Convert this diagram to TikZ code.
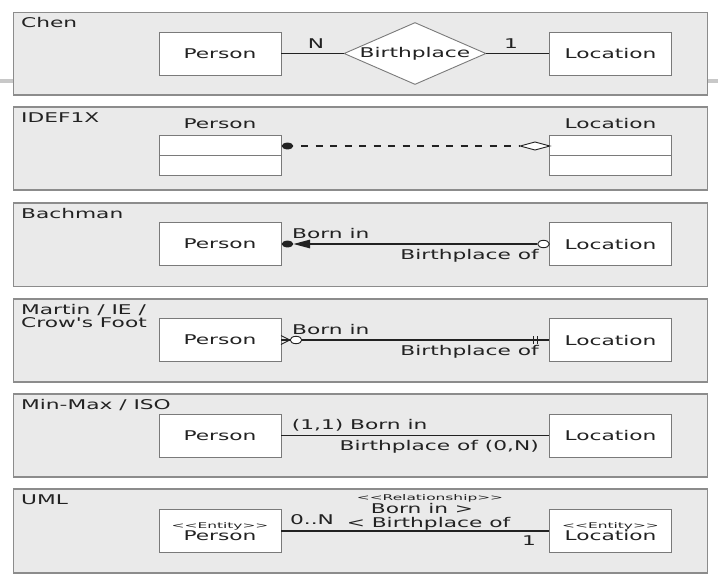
\documentclass[tikz,border=0pt]{standalone}
\usepackage{fontspec}
\setmainfont{DejaVu Sans}[FakeStretch=1.62,Ligatures=TeXOff]
\newfontfamily\tinyf{DejaVu Sans}[FakeStretch=1.95,Ligatures=TeXOff]
\usetikzlibrary{shapes.geometric,arrows.meta}
\definecolor{panelfill}{HTML}{EAEAEA}
\definecolor{panelline}{HTML}{8C8C8C}
\definecolor{boxline}{HTML}{7A7A7A}
\definecolor{ink}{HTML}{222222}
\definecolor{shadowbar}{HTML}{C8C8C8}
\newcommand\mysz{\fontsize{13.4}{15.5}\selectfont}
\newcommand\tinysz{\tinyf\fontsize{7.9}{9}\selectfont}
\tikzset{
  panel/.style={draw=panelline, fill=panelfill, line width=1.1pt},
  ebox/.style={draw=boxline, fill=white, line width=0.9pt, minimum width=122pt,
    minimum height=43pt, inner sep=0pt, font=\mysz, text=ink},
  halfbox/.style={ebox, minimum height=20pt},
  txt/.style={inner sep=0pt, text=ink, font=\mysz},
  tinytxt/.style={inner sep=0pt, text=ink, font=\tinysz},
  conn/.style={draw=ink, line width=1.2pt},
  fdot/.style={ellipse, fill=ink, inner sep=0pt, minimum width=11.6pt, minimum height=6.8pt},
  hdot/.style={ellipse, draw=ink, fill=white, line width=0.9pt, inner sep=0pt,
    minimum width=11.6pt, minimum height=7.4pt},
  reldiamond/.style={diamond, draw=boxline, fill=white, line width=0.9pt, inner sep=0pt,
    aspect=2.29, minimum width=142pt, minimum height=62pt, font=\mysz, text=ink},
  hdiamond/.style={diamond, draw=ink, fill=white, line width=0.9pt, inner sep=0pt,
    aspect=3.6, minimum width=30pt, minimum height=8.4pt},
}
\begin{document}
\begin{tikzpicture}[x=1pt,y=-1pt]
\useasboundingbox (0,0) rectangle (718,576);
\fill[white] (0,0) rectangle (718,576);
% screenshot artefact bar
\draw[shadowbar, line width=4pt] (0,80.5) -- (13,80.5);
\draw[shadowbar, line width=4pt] (707,80.5) -- (718,80.5);

% ---------- Chen ----------
\draw[panel] (13.3,12.5) rectangle (707.5,95);
\node[txt, anchor=base west] (t1) at (21,27) {Chen};
\node[ebox] (p1) at (220,53.5) {Person};
\node[ebox] (l1) at (610.5,53.5) {Location};
\node[reldiamond] (r1) at (415,53.5) {Birthplace};
\draw[conn] (p1.east) -- (r1.west);
\draw[conn] (r1.east) -- (l1.west);
\node[txt, anchor=base] (n1) at (316,48) {N};
\node[txt, anchor=base] (o1) at (511,48) {1};

% ---------- IDEF1X ----------
\draw[panel] (13.3,107) rectangle (707.5,190);
\node[txt, anchor=base west] (t2) at (21,122) {IDEF1X};
\node[txt, anchor=base] (ph2) at (220,128) {Person};
\node[txt, anchor=base] (lh2) at (610.5,128) {Location};
\node[halfbox] (p2a) at (220,145) {};
\node[halfbox] (p2b) at (220,165) {};
\node[halfbox] (l2a) at (610.5,145) {};
\node[halfbox] (l2b) at (610.5,165) {};
\node[fdot] (d2) at (287.5,146) {};
\node[hdiamond] (k2) at (535,146) {};
\draw[conn, dash pattern=on 7pt off 7.5pt, dash phase=7pt] (d2.east) -- (k2.west);

% ---------- Bachman ----------
\draw[panel] (13.3,203) rectangle (707.5,286.5);
\node[txt, anchor=base west] (t3) at (21,218) {Bachman};
\node[ebox] (p3) at (220,244) {Person};
\node[ebox] (l3) at (610.5,244) {Location};
\node[fdot] (d3) at (287.5,244) {};
\node[hdot] (c3) at (543.5,244) {};
\draw[conn, -{Triangle[length=16.7pt,width=8.6pt]}] (c3.west) -- (d3.east);
\node[txt, anchor=base west] (a3) at (292,238) {Born in};
\node[txt, anchor=base east] (b3) at (539,259) {Birthplace of};

% ---------- Martin / IE / Crow's Foot ----------
\draw[panel] (13.3,299) rectangle (707.5,382);
\node[txt, anchor=base west] (t4a) at (21,314) {Martin / IE /};
\node[txt, anchor=base west] (t4b) at (21,327) {Crow's Foot};
\node[ebox] (p4) at (220,340) {Person};
\node[ebox] (l4) at (610.5,340) {Location};
\node[hdot] (c4) at (296,340) {};
\coordinate (f4a) at (281,335.5);
\coordinate (f4b) at (281,344.5);
\draw[conn, line width=0.9pt] (f4a) -- (c4.west) -- (f4b);
\draw[conn] (p4.east) -- (c4.west);
\draw[conn] (c4.east) -- (l4.west);
\coordinate (g4a) at (533,336.3);
\coordinate (g4b) at (533,343.7);
\coordinate (g4c) at (537,336.3);
\coordinate (g4d) at (537,343.7);
\draw[conn, line width=1pt] (g4a) -- (g4b);
\draw[conn, line width=1pt] (g4c) -- (g4d);
\node[txt, anchor=base west] (a4) at (292,334) {Born in};
\node[txt, anchor=base east] (b4) at (539,355) {Birthplace of};

% ---------- Min-Max / ISO ----------
\draw[panel] (13.3,394) rectangle (707.5,477);
\node[txt, anchor=base west] (t5) at (21,409) {Min-Max / ISO};
\node[ebox] (p5) at (220,435.5) {Person};
\node[ebox] (l5) at (610.5,435.5) {Location};
\draw[conn] (p5.east) -- (l5.west);
\node[txt, anchor=base west] (a5) at (291.7,429) {(1,1) Born in};
\node[txt, anchor=base east] (b5) at (539,450) {Birthplace of (0,N)};

% ---------- UML ----------
\draw[panel] (13.3,489) rectangle (707.5,573);
\node[txt, anchor=base west] (t6) at (21,504) {UML};
\node[ebox] (p6) at (220,531) {};
\node[ebox] (l6) at (610.5,531) {};
\node[tinytxt, anchor=base] (pe6) at (220,528) {<<Entity>>};
\node[txt, anchor=base] (pn6) at (220,540) {Person};
\node[tinytxt, anchor=base] (le6) at (610.5,528) {<<Entity>>};
\node[txt, anchor=base] (ln6) at (610.5,540) {Location};
\draw[conn] (p6.east) -- (l6.west);
\node[tinytxt, anchor=base] (s6) at (430,500) {<<Relationship>>};
\node[txt, anchor=base] (a6) at (422,513.5) {Born in >};
\node[txt, anchor=base] (b6) at (428.5,527) {< Birthplace of};
\node[txt, anchor=base] (m6) at (312,524.5) {0..N};
\node[txt, anchor=base] (o6) at (529,545) {1};
\end{tikzpicture}
\end{document}
